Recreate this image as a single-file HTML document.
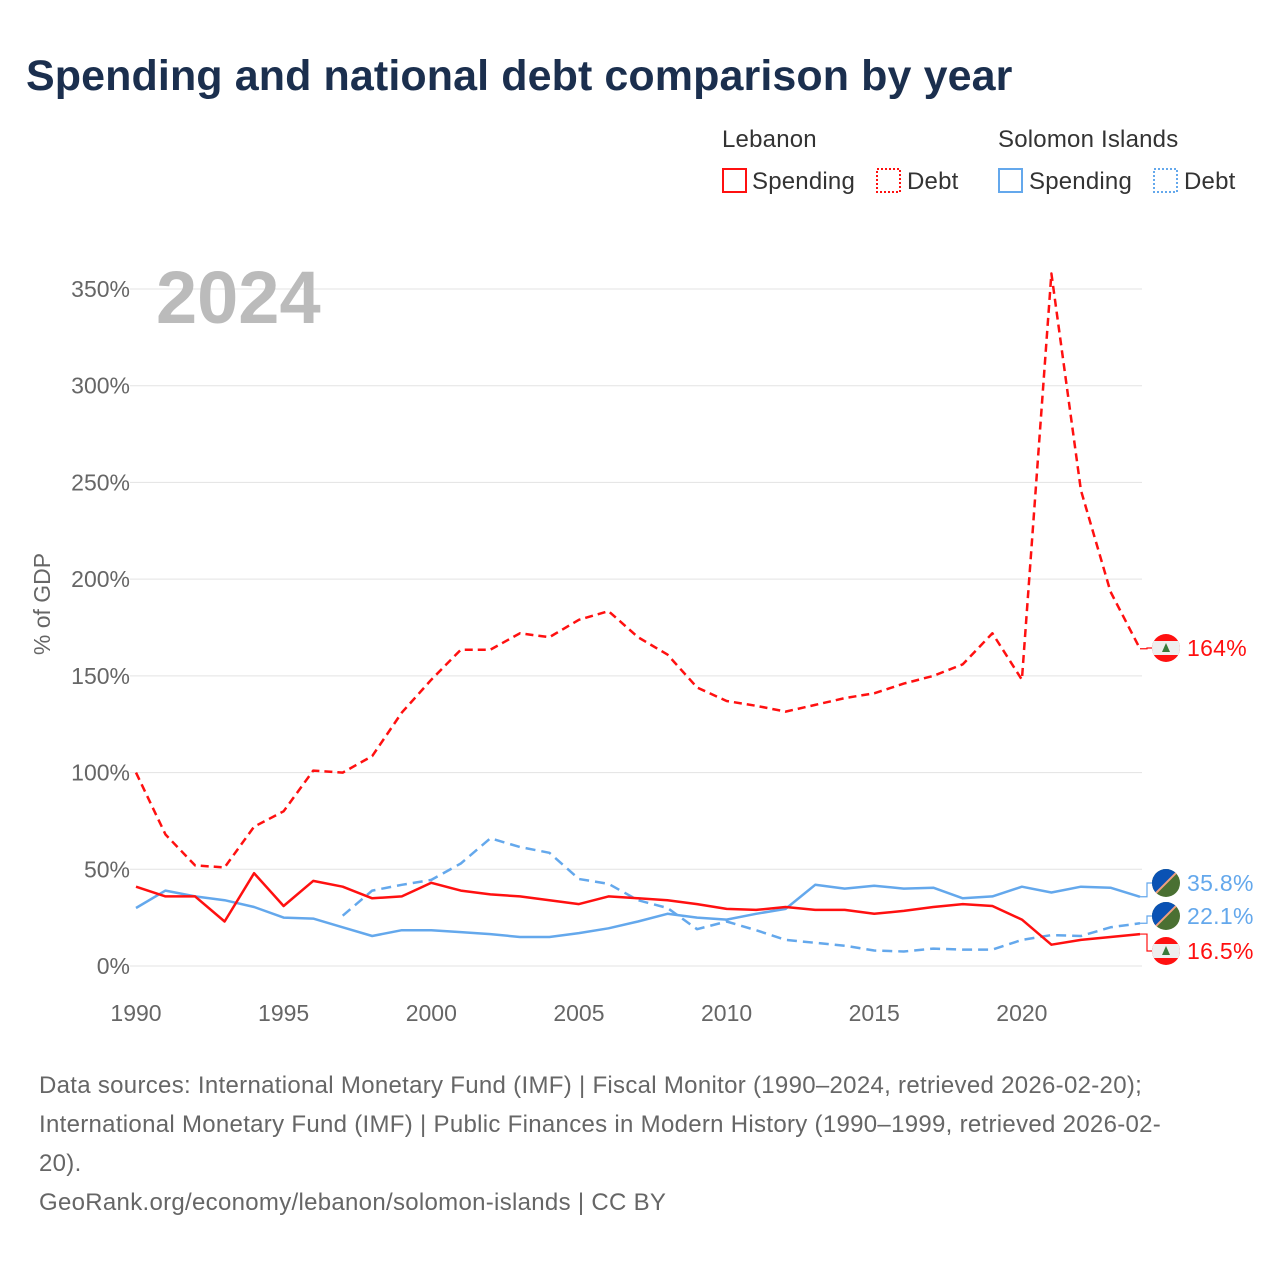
<!DOCTYPE html>
<html><head><meta charset="utf-8">
<style>
body{margin:0;background:#fff;font-family:"Liberation Sans",sans-serif;}
#wrap{position:relative;width:1280px;height:1280px;overflow:hidden;}
h1{position:absolute;left:26px;top:52px;margin:0;font-size:43px;font-weight:bold;color:#1b2f4e;letter-spacing:0.1px;}
.src{position:absolute;left:39px;top:1066px;font-size:24px;line-height:39px;color:#666;width:1220px;letter-spacing:0.3px;white-space:nowrap;}
</style></head><body>
<div id="wrap">
<h1>Spending and national debt comparison by year</h1>
<svg id="chart" width="1280" height="1280" style="position:absolute;left:0;top:0"></svg>
<div class="src">Data sources: International Monetary Fund (IMF) | Fiscal Monitor (1990–2024, retrieved 2026-02-20);<br>International Monetary Fund (IMF) | Public Finances in Modern History (1990–1999, retrieved 2026-02-<br>20).<br>GeoRank.org/economy/lebanon/solomon-islands | CC BY</div>
</div>
<script>
const years=[];for(let y=1990;y<=2024;y++)years.push(y);
const lbnSpending=[41,36,36,23,48,31,44,41,35,36,43,39,37,36,34,32,36,35,34,32,29.5,29,30.5,29,29,27,28.5,30.5,32,31,24,11,13.5,15,16.5];
const slbSpending=[30,39,36,34,30.5,25,24.5,20,15.5,18.5,18.5,17.5,16.5,15,15,17,19.5,23,27,25,24,27,29.5,42,40,41.5,40,40.5,35,36,41,38,41,40.5,35.8];
const lbnDebt=[100,68,52,51,72,80,101,100,108.5,131,148,163.5,163.5,172,170,179,183.5,170,161,144,137,134.5,131.5,135,138.5,141,146,150,156,172,148,358,246,193.5,164];
const slbDebt=[null,null,null,null,null,null,null,26,39,42,44.5,53,66,61.5,58.5,45,42.5,34,30,19,23,18.5,13.5,12,10.5,8,7.5,9,8.5,8.5,13.5,16,15.5,20,22.1];
const yTicks=[0,50,100,150,200,250,300,350];
const xTicks=[1990,1995,2000,2005,2010,2015,2020];
const NS='http://www.w3.org/2000/svg';
const svg=document.getElementById('chart');
const X=y=>136+(y-1990)*(1140-136)/34;
const Y=v=>966-v*(966-289)/350;
function mk(t,a,p){const e=document.createElementNS(NS,t);for(const k in a)e.setAttribute(k,a[k]);(p||svg).appendChild(e);return e;}
yTicks.forEach(v=>{
 const l=mk('line',{x1:130,x2:1142,y1:Y(v),y2:Y(v),stroke:'#e3e3e3','stroke-width':1});
 
 
 const t=mk('text',{x:130,y:Y(v)+8,'text-anchor':'end','font-size':23,fill:'#666'});t.textContent=v+'%';
 
 
});
xTicks.forEach(yr=>{
 const t=mk('text',{x:X(yr),y:1021,'text-anchor':'middle','font-size':23,fill:'#666'});t.textContent=yr;
 
 
});
const yt=mk('text',{x:50,y:604,'text-anchor':'middle','font-size':23,fill:'#666',transform:'rotate(-90 50 604)'});yt.textContent='% of GDP';


const yr=mk('text',{x:156,y:323,'font-size':74,'font-weight':'bold',fill:'#bbb'});yr.textContent='2024';


function series(vals,color,dash,name){
 let d='';let pen=false;
 vals.forEach((v,i)=>{if(v==null){pen=false;return;}d+=(pen?'L':'M')+X(years[i]).toFixed(1)+','+Y(v).toFixed(1);pen=true;});
 const p=mk('path',{d:d,fill:'none',stroke:color,'stroke-width':2.5,'stroke-dasharray':dash||'none','stroke-linejoin':'round'});
 
 
}
series(slbDebt,'#64a8ec','10,6','line-solomon-debt');
series(slbSpending,'#64a8ec',null,'line-solomon-spending');
series(lbnDebt,'#ff1010','8,5','line-lebanon-debt');
series(lbnSpending,'#ff1010',null,'line-lebanon-spending');
function flag(cx,cy,leb,name){
 const g=mk('g',{});
 
 
 mk('clipPath',{id:name+'c'},g);
 mk('circle',{cx:cx,cy:cy,r:14},g.lastChild);
 const c=mk('g',{'clip-path':'url(#'+name+'c)'},g);
 if(leb){mk('rect',{x:cx-14,y:cy-14,width:28,height:28,fill:'#ff1010'},c);mk('rect',{x:cx-14,y:cy-7,width:28,height:14,fill:'#eee'},c);mk('polygon',{points:`${cx},${cy-5} ${cx-4},${cy+4} ${cx+4},${cy+4}`,fill:'#3a7a3a'},c);}
 else{mk('rect',{x:cx-14,y:cy-14,width:28,height:28,fill:'#4a7032'},c);mk('polygon',{points:`${cx-14},${cy-14} ${cx+14},${cy-14} ${cx-14},${cy+14}`,fill:'#0a52b4'},c);mk('line',{x1:cx+14,y1:cy-14,x2:cx-14,y2:cy+14,stroke:'#f0a080','stroke-width':2},c);}
}
function endLabel(v,ly,color,txt,leb,name){
 mk('polyline',{points:`${X(2024)},${Y(v)} 1147,${Y(v)} 1147,${ly} 1152,${ly}`,fill:'none',stroke:color,'stroke-width':1.2});
 flag(1166,ly,leb,name+'-flag');
 const t=mk('text',{x:1187,y:ly+8,'font-size':23,fill:color,'letter-spacing':'0.3'});t.textContent=txt;
 
 
}
endLabel(lbnDebt[34],648,'#ff1010','164%',true,'label-lebanon-debt');
endLabel(slbSpending[34],883,'#64a8ec','35.8%',false,'label-solomon-spending');
endLabel(slbDebt[34],916,'#64a8ec','22.1%',false,'label-solomon-debt');
endLabel(lbnSpending[34],951,'#ff1010','16.5%',true,'label-lebanon-spending');
function lt(x,y,s,name){const t=mk('text',{x:x,y:y,'font-size':24,fill:'#333','letter-spacing':'0.2'});t.textContent=s;}
lt(722,147,'Lebanon','legend-group-lebanon');lt(998,147,'Solomon Islands','legend-group-solomon');
function sw(x,color,dash,name){const r=mk('rect',{x:x,y:169,width:23,height:23,fill:'none',stroke:color,'stroke-width':2,'stroke-dasharray':dash||'none'});}
sw(723,'#ff1010',null,'legend-swatch-lebanon-spending');lt(752,189,'Spending','legend-lebanon-spending');
sw(877,'#ff1010','2,2','legend-swatch-lebanon-debt');lt(907,189,'Debt','legend-lebanon-debt');
sw(999,'#64a8ec',null,'legend-swatch-solomon-spending');lt(1029,189,'Spending','legend-solomon-spending');
sw(1154,'#64a8ec','2,2','legend-swatch-solomon-debt');lt(1184,189,'Debt','legend-solomon-debt');
</script>
</body></html>
